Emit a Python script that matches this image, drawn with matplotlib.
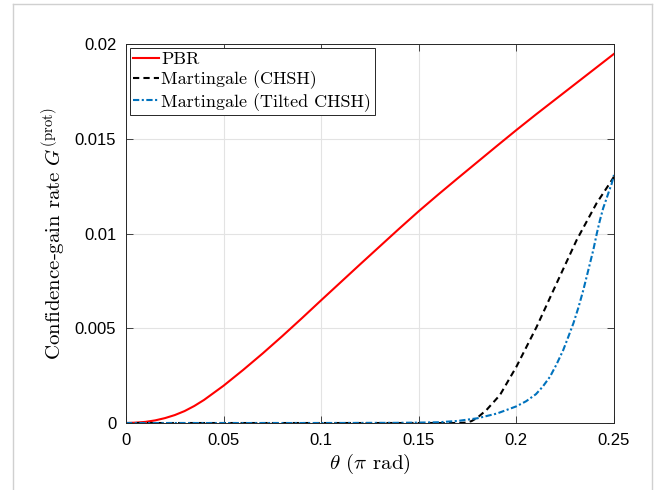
import matplotlib
matplotlib.use("Agg")
import matplotlib.pyplot as plt
from matplotlib.lines import Line2D

# ----- data -----
theta_pbr = [0.0, 0.005, 0.01, 0.015, 0.02, 0.025, 0.03, 0.035, 0.04, 0.05,
             0.06, 0.07, 0.08, 0.09, 0.10, 0.11, 0.12, 0.13, 0.14, 0.15,
             0.16, 0.17, 0.18, 0.19, 0.20, 0.21, 0.22, 0.23, 0.24, 0.25]
g_pbr = [0.0, 0.00002, 0.00006, 0.00014, 0.00026, 0.00042, 0.00063, 0.00090,
         0.00122, 0.00197, 0.00280, 0.00367, 0.00458, 0.00552, 0.00648,
         0.00743, 0.00838, 0.00932, 0.01026, 0.01118, 0.01206, 0.01292,
         0.01377, 0.01462, 0.01546, 0.01628, 0.01708, 0.01788, 0.01868,
         0.01948]

theta_chsh = [0.0, 0.05, 0.10, 0.15, 0.170, 0.174, 0.177, 0.180, 0.1847,
              0.1916, 0.200, 0.2104, 0.2206, 0.2309, 0.2411, 0.2488, 0.25]
g_chsh = [0.0, 0.0, 0.0, 0.0, 0.0, 0.00002, 0.00010, 0.00028, 0.00069,
          0.00148, 0.00297, 0.00508, 0.00737, 0.00966, 0.01160, 0.01280,
          0.01300]

theta_tilt = [0.0, 0.05, 0.10, 0.14, 0.15, 0.16, 0.17, 0.18, 0.19, 0.20,
              0.205, 0.21, 0.2135, 0.2172, 0.2205, 0.224, 0.2265, 0.2292,
              0.2318, 0.2343, 0.2368, 0.2394, 0.2412, 0.2428, 0.2445, 0.2462,
              0.2475, 0.2488, 0.25]
g_tilt = [0.0, 0.0, 0.0, 0.00001, 0.00002, 0.00004, 0.00011, 0.00025,
          0.00050, 0.00088, 0.00115, 0.00152, 0.00192, 0.00244, 0.00308,
          0.00385, 0.00452, 0.00526, 0.00610, 0.00702, 0.00805, 0.00913,
          0.01000, 0.01070, 0.01135, 0.01185, 0.01225, 0.01262, 0.01309]

x_ticks = [0, 0.05, 0.1, 0.15, 0.2, 0.25]
x_labels = ['0', '0.05', '0.1', '0.15', '0.2', '0.25']
y_ticks = [0, 0.005, 0.01, 0.015, 0.02]
y_labels = ['0', '0.005', '0.01', '0.015', '0.02']
# ---------------------------------------

plt.rcParams['mathtext.fontset'] = 'cm'
plt.rcParams['axes.unicode_minus'] = False
TEX = 'cmr10'
TICKFONT = 'Liberation Sans'

fig = plt.figure(figsize=(6.58, 4.90), dpi=100)
ax = fig.add_axes([0.1915, 0.1367, 0.7416, 0.7735])

ax.plot(theta_pbr, g_pbr, color='#ff0000', lw=1.5, label='PBR')
ax.plot(theta_chsh, g_chsh, color='black', lw=1.5, linestyle=(0, (3, 2)),
        label='Martingale (CHSH)')
ax.plot(theta_tilt, g_tilt, color='#0072bd', lw=1.5,
        linestyle=(0, (3, 1.2, 1, 1.2)), label='Martingale (Tilted CHSH)')

ax.set_xlim(0, 0.25)
ax.set_ylim(0, 0.02)
ax.set_xticks(x_ticks)
ax.set_yticks(y_ticks)
ax.set_xticklabels(x_labels)
ax.set_yticklabels(y_labels)
for lab in ax.get_xticklabels() + ax.get_yticklabels():
    lab.set_fontfamily(TICKFONT)
    lab.set_fontsize(12)

ax.tick_params(direction='in', length=5, width=0.6, color='#262626',
               top=True, right=True, pad=7)
for s in ax.spines.values():
    s.set_color('#262626')
    s.set_linewidth(0.7)
ax.grid(True, color='#e3e3e3', lw=0.8)
ax.set_axisbelow(True)

ax.set_xlabel(r'$\theta$ ($\pi$ rad)', family=TEX, fontsize=15, labelpad=3)
ax.set_ylabel(r'Confidence-gain rate $G^{(\mathrm{prot})}$', family=TEX,
              fontsize=15, labelpad=5)

leg = ax.legend(loc='upper left', prop={'family': TEX, 'size': 13},
                handlelength=1.4, handletextpad=0.15, borderpad=0.2,
                labelspacing=0.2, borderaxespad=0.2, fancybox=False,
                framealpha=1, edgecolor='#262626')
leg.get_frame().set_linewidth(0.7)

# light frame around the picture
bc = '#d0d0d0'
fig.add_artist(Line2D([0.0198, 0.0198], [0, 0.9918], transform=fig.transFigure, color=bc, lw=1))
fig.add_artist(Line2D([0.0198, 0.9909], [0.9918, 0.9918], transform=fig.transFigure, color=bc, lw=1))
fig.add_artist(Line2D([0.9909, 0.9909], [0, 0.9918], transform=fig.transFigure, color=bc, lw=1))

fig.savefig('out.png', dpi=100)
